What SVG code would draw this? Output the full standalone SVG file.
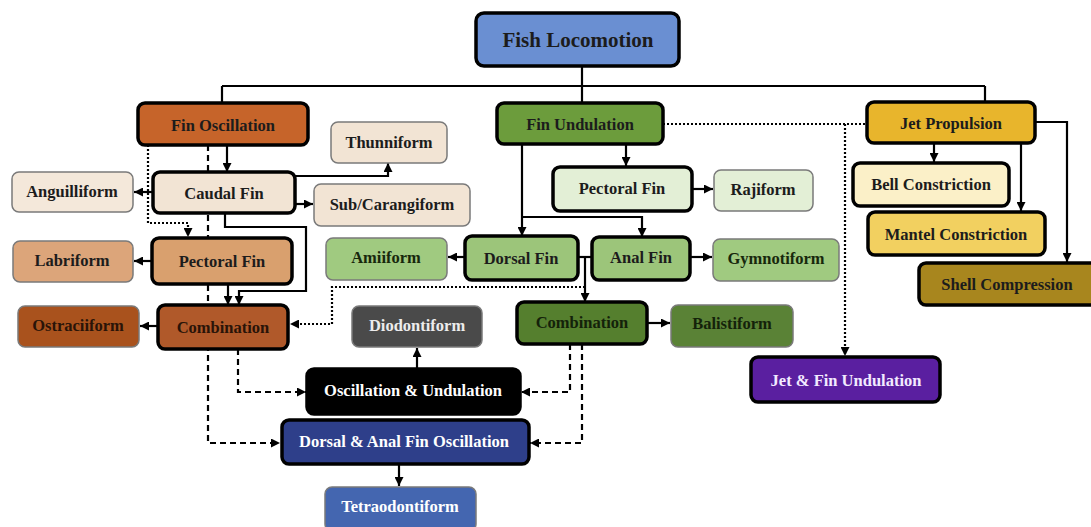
<svg xmlns="http://www.w3.org/2000/svg" width="1091" height="527" viewBox="0 0 1091 527">
<defs>
<marker id="ah" viewBox="0 0 10 10" refX="10" refY="5" markerWidth="9" markerHeight="9" markerUnits="userSpaceOnUse" orient="auto">
<path d="M0,0 L10,5 L0,10 z" fill="#000"/>
</marker>
</defs>
<style>
.thick{stroke:#000;stroke-width:3.5}
.thin{stroke:#7a7a7a;stroke-width:1.5}
text{font-family:"Liberation Serif","Times New Roman",serif;font-weight:bold;font-size:16.5px;text-anchor:middle;dominant-baseline:central}
.c{fill:none;stroke:#000;stroke-width:2.2}
.a{marker-end:url(#ah)}
.dash{stroke-dasharray:6 4}
.dot{stroke-dasharray:2 2}
.dk{fill:#1c1c1c}
.wt{fill:#ffffff}
</style>
<rect width="1091" height="527" fill="#ffffff"/>
<g id="connectors">
<path class="c" d="M582,66 V86 M222,86 H985 M222,86 V103 M582,86 V103 M985,86 V102"/>
<path class="c a" d="M227,145 V172"/>
<path class="c a dash" d="M208,145 V443 H280"/>
<path class="c a dot" d="M148,145 V223 H188 V237"/>
<path class="c a" d="M153,192 H134"/>
<path class="c a" d="M295,176 H388 V163"/>
<path class="c a" d="M295,204 H313"/>
<path class="c a" d="M225,213 V227 H306 V291 H239 V305"/>
<path class="c a" d="M152,261 H134"/>
<path class="c a" d="M228,284 V305"/>
<path class="c a" d="M158,326 H140"/>
<path class="c a dash" d="M238,349 V392 H306"/>
<path class="c a" d="M626,144 V166"/>
<path class="c a" d="M522,144 V236"/>
<path class="c a" d="M522,217 H642 V237"/>
<path class="c a" d="M692,189 H713"/>
<path class="c a" d="M465,257 H448"/>
<path class="c a" d="M690,257 H712"/>
<path class="c" d="M578,257 H592"/>
<path class="c a" d="M585,257 V302"/>
<path class="c a dot" d="M585,287 H332 V324 H290"/>
<path class="c a" d="M647,323 H670"/>
<path class="c a dash" d="M570,344 V392 H521"/>
<path class="c a dash" d="M582,344 V443 H530"/>
<path class="c a" d="M417,369 V348"/>
<path class="c a" d="M399,464 V486"/>
<path class="c dot" d="M663,124 H867"/>
<path class="c a dot" d="M845,124 V356"/>
<path class="c a" d="M934,143 V162"/>
<path class="c a" d="M1021,143 V211"/>
<path class="c a" d="M1035,122 H1067 V262"/>
</g>
<g id="fish-locomotion"><rect class="thick" x="476" y="13" width="203" height="53" rx="8" fill="#6a8fd2"/><text x="578" y="40" class="dk" style="font-size:21px">Fish Locomotion</text></g>
<g id="fin-oscillation"><rect class="thick" x="138" y="103" width="170" height="42" rx="7" fill="#c6642a"/><text x="223" y="125" class="dk">Fin Oscillation</text></g>
<g id="caudal-fin"><rect class="thick" x="153" y="172" width="142" height="41" rx="7" fill="#f2e4d4"/><text x="224" y="193" class="dk">Caudal Fin</text></g>
<g id="anguilliform"><rect class="thin" x="12" y="172" width="121" height="40" rx="7" fill="#f4e8da"/><text x="72" y="191" class="dk">Anguilliform</text></g>
<g id="thunniform"><rect class="thin" x="331" y="122" width="116" height="41" rx="7" fill="#f2e4d4"/><text x="389" y="142" class="dk">Thunniform</text></g>
<g id="sub-carangiform"><rect class="thin" x="314" y="184" width="156" height="42" rx="7" fill="#f2e4d4"/><text x="392" y="204" class="dk">Sub/Carangiform</text></g>
<g id="pectoral-fin-osc"><rect class="thick" x="152" y="238" width="140" height="46" rx="7" fill="#d9a06e"/><text x="222" y="261" class="dk">Pectoral Fin</text></g>
<g id="labriform"><rect class="thin" x="13" y="241" width="120" height="41" rx="7" fill="#dca57a"/><text x="72" y="260" class="dk">Labriform</text></g>
<g id="combination-osc"><rect class="thick" x="158" y="305" width="130" height="44" rx="7" fill="#b0592a"/><text x="223" y="327" fill="#2a1408">Combination</text></g>
<g id="ostraciiform"><rect class="thin" x="18" y="306" width="121" height="41" rx="7" fill="#a9521d"/><text x="78" y="325" fill="#2a1408">Ostraciiform</text></g>
<g id="fin-undulation"><rect class="thick" x="497" y="103" width="166" height="41" rx="7" fill="#6c9c3c"/><text x="580" y="124" class="dk">Fin Undulation</text></g>
<g id="pectoral-fin-und"><rect class="thick" x="553" y="167" width="139" height="44" rx="7" fill="#e3efd6"/><text x="622" y="188" class="dk">Pectoral Fin</text></g>
<g id="rajiform"><rect class="thin" x="714" y="170" width="99" height="41" rx="7" fill="#e3efd6"/><text x="763" y="189" class="dk">Rajiform</text></g>
<g id="dorsal-fin"><rect class="thick" x="465" y="236" width="113" height="44" rx="7" fill="#9cc57a"/><text x="521" y="258" class="dk">Dorsal Fin</text></g>
<g id="amiiform"><rect class="thin" x="326" y="238" width="121" height="42" rx="7" fill="#a0ca80"/><text x="386" y="257" fill="#17280c">Amiiform</text></g>
<g id="anal-fin"><rect class="thick" x="592" y="237" width="98" height="43" rx="7" fill="#9cc57a"/><text x="641" y="257" class="dk">Anal Fin</text></g>
<g id="gymnotiform"><rect class="thin" x="713" y="239" width="126" height="42" rx="7" fill="#a0ca80"/><text x="776" y="258" fill="#17280c">Gymnotiform</text></g>
<g id="combination-und"><rect class="thick" x="517" y="302" width="130" height="42" rx="7" fill="#557f2e"/><text x="582" y="322" fill="#14220a">Combination</text></g>
<g id="balistiform"><rect class="thin" x="671" y="305" width="122" height="42" rx="7" fill="#5a8236"/><text x="732" y="323" fill="#14220a">Balistiform</text></g>
<g id="diodontiform"><rect class="thin" x="352" y="306" width="130" height="41" rx="7" fill="#4a4a4a"/><text x="417" y="325" fill="#ececec">Diodontiform</text></g>
<g id="oscillation-undulation"><rect class="thick" x="307" y="369" width="213" height="45" rx="7" fill="#000000"/><text x="413" y="390" class="wt">Oscillation &amp; Undulation</text></g>
<g id="dorsal-anal-oscillation"><rect class="thick" x="282" y="420" width="247" height="44" rx="7" fill="#2e3f8a"/><text x="404" y="441" class="wt">Dorsal &amp; Anal Fin Oscillation</text></g>
<g id="tetraodontiform"><rect class="thin" x="325" y="487" width="151" height="44" rx="7" fill="#4466b0"/><text x="400" y="506" class="wt">Tetraodontiform</text></g>
<g id="jet-propulsion"><rect class="thick" x="867" y="102" width="168" height="41" rx="7" fill="#e8b52c"/><text x="951" y="123" class="dk">Jet Propulsion</text></g>
<g id="bell-constriction"><rect class="thick" x="853" y="163" width="156" height="43" rx="7" fill="#fbf0c8"/><text x="931" y="184" class="dk">Bell Constriction</text></g>
<g id="mantel-constriction"><rect class="thick" x="868" y="212" width="177" height="43" rx="7" fill="#f2d060"/><text x="956" y="234" class="dk">Mantel Constriction</text></g>
<g id="shell-compression"><rect class="thick" x="919" y="263" width="180" height="42" rx="7" fill="#a8861e"/><text x="1007" y="284" class="dk">Shell Compression</text></g>
<g id="jet-fin-undulation"><rect class="thick" x="751" y="357" width="189" height="45" rx="7" fill="#5a1fa0"/><text x="846" y="380" fill="#f2eaff">Jet &amp; Fin Undulation</text></g>
</svg>
